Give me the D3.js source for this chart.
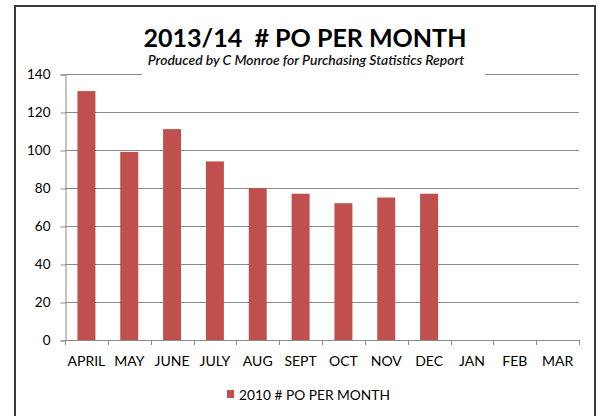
<!DOCTYPE html>
<html><head><meta charset="utf-8">
<script src="https://cdn.jsdelivr.net/npm/d3@7"></script>
<style>
html,body{margin:0;padding:0;background:#fff;}
svg{display:block;}
text{font-family:Lato,"Open Sans",sans-serif;}
</style></head>
<body>
<svg id="chart" width="600" height="416"></svg>
<script>
const months = ["APRIL","MAY","JUNE","JULY","AUG","SEPT","OCT","NOV","DEC","JAN","FEB","MAR"];
const poCounts = [131, 99, 111, 94, 80, 77, 72, 75, 77, null, null, null];
const yTicks = [0, 20, 40, 60, 80, 100, 120, 140];
const titleText = "2013/14  # PO PER MONTH";
const subtitleText = "Produced by C Monroe for Purchasing Statistics Report";
const legendLabel = "2010 # PO PER MONTH";

const svg = d3.select("#chart");
const barColor = "#C0504D";
const gridColor = "#8a8a8a";

// outer border
svg.append("rect").attr("x",15).attr("y",6).attr("width",580).attr("height",430)
  .attr("fill","#fff").attr("stroke","#3a3a3a").attr("stroke-width",2);

const x = d3.scaleBand().domain(months).range([65,579]).paddingInner(0.58).paddingOuter(0.29);
const xTickScale = d3.scaleBand().domain(months).range([65,579]);
const y = d3.scaleLinear().domain([0,140]).range([340,74]);

// gridlines
svg.append("g").selectAll("line").data(yTicks.filter(d=>d>0)).join("line")
  .attr("x1",65).attr("x2",579).attr("y1",d=>y(d)+0.5).attr("y2",d=>y(d)+0.5)
  .attr("stroke",gridColor).attr("stroke-width",1);

// y axis
const yAxis = svg.append("g").attr("transform","translate(65.5,0.5)")
  .call(d3.axisLeft(y).tickValues(yTicks).tickSize(5).tickPadding(10));
yAxis.select(".domain").attr("stroke",gridColor);
yAxis.selectAll(".tick line").attr("stroke",gridColor);
yAxis.selectAll("text").attr("font-size",13.5).attr("fill","#000").attr("font-family","Lato");

// bars
svg.append("g").selectAll("rect").data(months.map((m,i)=>({m, v:poCounts[i]})).filter(d=>d.v!=null))
  .join("rect")
  .attr("x",d=>x(d.m)).attr("width",x.bandwidth())
  .attr("y",d=>y(d.v)).attr("height",d=>y(0)-y(d.v))
  .attr("fill",barColor);

// x axis
const xAxis = svg.append("g").attr("transform","translate(0,340.5)")
  .call(d3.axisBottom(xTickScale).tickSize(0).tickPadding(16));
xAxis.select(".domain").attr("stroke",gridColor).attr("d","M65.5,0H579.5");
xAxis.selectAll("text").attr("font-size",14).attr("fill","#000").attr("font-family","Lato");
// category boundary ticks
svg.append("g").selectAll("line").data(d3.range(13)).join("line")
  .attr("x1",i=>Math.round(65+i*xTickScale.step())+0.5).attr("x2",i=>Math.round(65+i*xTickScale.step())+0.5)
  .attr("y1",340).attr("y2",345).attr("stroke",gridColor);

// title box
svg.append("rect").attr("x",142).attr("y",16).attr("width",343).attr("height",62).attr("fill","#fff");
function fit(sel, target){
  const len = sel.node().getComputedTextLength();
  const fs = parseFloat(sel.attr("font-size"));
  sel.attr("font-size", fs*target/len);
}
const t = svg.append("text").attr("x",305).attr("y",47).attr("text-anchor","middle")
  .attr("font-size",28).attr("font-weight","bold").style("white-space","pre").attr("fill","#000")
  .text(titleText);
fit(t, 323);
const st = svg.append("text").attr("x",306).attr("y",65).attr("text-anchor","middle")
  .attr("font-size",11).attr("font-style","italic").attr("font-weight","600").attr("fill","#111")
  .text(subtitleText);
fit(st, 317);

// legend
svg.append("rect").attr("x",227).attr("y",390).attr("width",7).attr("height",8).attr("fill",barColor);
const lt = svg.append("text").attr("x",239).attr("y",399.5).attr("font-size",13).attr("fill","#000")
  .text(legendLabel);
fit(lt, 151);
</script>
</body></html>
